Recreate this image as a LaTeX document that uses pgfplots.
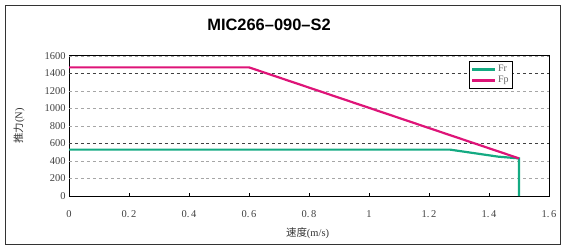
\documentclass[border=0pt]{standalone}
\usepackage{pgfplots}
\pgfplotsset{compat=1.18}
\usepackage{fontspec}
\setmainfont{Liberation Serif}
\newfontfamily\cjk{Noto Sans CJK SC}
\newfontfamily\titlefont{Liberation Sans}
\definecolor{frgreen}{RGB}{20,170,130}
\definecolor{fpmag}{RGB}{222,20,120}
\begin{document}
\begin{tikzpicture}[x=1bp,y=1bp]
\useasboundingbox (0,0) rectangle (566,247);
\draw[black!80, line width=0.8bp] (5,3) rectangle (560,242);
\node[font=\titlefont\bfseries\fontsize{16.5}{18}\selectfont] at (269,222) {MIC266–090–S2};
\begin{axis}[
  at={(69bp,51bp)}, anchor=south west,
  scale only axis, width=480bp, height=140bp,
  xmin=0, xmax=1.6, ymin=0, ymax=1600,
  xtick={0,0.2,0.4,0.6,0.8,1,1.2,1.4,1.6},
  xticklabels={0,0.\,2,0.\,4,0.\,6,0.\,8,1,1.\,2,1.\,4,1.\,6},
  ytick={0,200,...,1600},
  yticklabels={0,200,400,600,800,1000,1200,1400,1600},
  tick align=inside,
  xtick pos=bottom, ytick pos=left,
  major tick length=3bp,
  tick style={black, line width=0.6bp},
  ticklabel style={font=\fontsize{10.5}{12}\selectfont, text=black!75},
  /pgf/number format/assume math mode=true,
  xticklabel style={yshift=-11bp},
  axis line style={black, line width=1bp},
  xlabel={\cjk 速度\rmfamily(m/s)},
  ylabel={\cjk 推力\rmfamily(N)},
  xlabel style={font=\fontsize{10.5}{12}\selectfont, text=black!80,
    at={(axis description cs:0.497,0)}, anchor=center, yshift=-37bp},
  ylabel style={font=\fontsize{10.5}{12}\selectfont, text=black!80,
    at={(axis description cs:0,0.5)}, anchor=center, yshift=50bp},
  legend style={at={(0.925,0.964)}, anchor=north east, draw=black, line width=0.8bp,
    font=\fontsize{10}{11}\selectfont, text=black!60, inner sep=2pt, row sep=-1pt,
    legend cell align=left},
  legend image post style={line width=2.2bp},
  legend image code/.code={\draw[#1] (0cm,0cm) -- (0.8cm,0cm);},
]
% grid lines
\addplot[gray!70, dashed, line width=0.9bp, forget plot] coordinates {(0,200) (1.6,200)};
\addplot[gray!70, dashed, line width=0.9bp, forget plot] coordinates {(0,400) (1.6,400)};
\addplot[black!75, dashed, line width=1bp, forget plot] coordinates {(0,600) (1.6,600)};
\addplot[gray!70, dashed, line width=0.9bp, forget plot] coordinates {(0,800) (1.6,800)};
\addplot[gray!70, dashed, line width=0.9bp, forget plot] coordinates {(0,1000) (1.6,1000)};
\addplot[gray!70, dashed, line width=0.9bp, forget plot] coordinates {(0,1200) (1.6,1200)};
\addplot[black!75, dashed, line width=1bp, forget plot] coordinates {(0,1400) (1.6,1400)};
\addplot[gray!70, dashed, line width=0.9bp, forget plot] coordinates {(0,1600) (1.6,1600)};
% data
\addplot[frgreen, line width=2.2bp] coordinates {(0,530) (1.27,530) (1.43,450) (1.5,430) (1.5,0)};
\addlegendentry{Fr}
\addplot[fpmag, line width=2.2bp] coordinates {(0,1470) (0.6,1470) (1.5,430)};
\addlegendentry{Fp}
\end{axis}
\end{tikzpicture}
\end{document}
